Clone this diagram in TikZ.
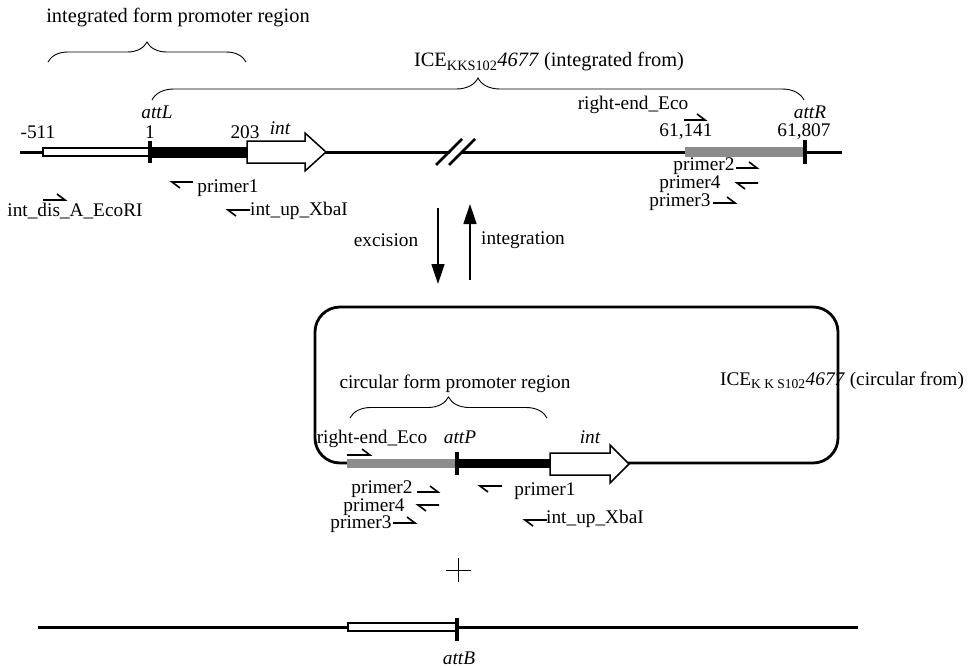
\documentclass[tikz,border=0pt]{standalone}
\usepackage{fontspec}
\setmainfont{Liberation Serif}
\usetikzlibrary{decorations.pathreplacing,arrows.meta}
\newcommand\fwdprimer[3]{\draw[prm] (#1,#3) -- (#2,#3) -- ++(-8,-6);}
\newcommand\revprimer[3]{\draw[prm] (#2,#3) -- (#1,#3) -- ++(8,6);}
\newcommand\intarrow[4]{\draw[line width=1.5pt,fill=white] (#1,#4-11) -- (#2,#4-11) -- (#2,#4-19) -- (#3,#4) -- (#2,#4+19) -- (#2,#4+11) -- (#1,#4+11) -- cycle;}
\begin{document}
\begin{tikzpicture}[x=1pt,y=-1pt,
  lbl/.style={inner sep=0pt, font=\fontsize{19.3}{20}\selectfont},
  ilbl/.style={inner sep=0pt, font=\fontsize{19.3}{20}\selectfont\itshape},
  dna/.style={line width=3pt},
  tick/.style={line width=3.5pt},
  brc/.style={decorate, decoration={brace, amplitude=#1}, line width=0.9pt},
  prm/.style={line width=1.6pt},
  bigarrow/.style={line width=1.6pt, -{Triangle[length=20pt,width=13pt]}}
]
\useasboundingbox (0,0) rectangle (975,667);

% ---------- integrated form ----------
\draw[dna] (20,152) -- (842,152);
\draw[line width=1.5pt, fill=white] (43,148) rectangle (150,156);
\fill (150,147) rectangle (248,158);
\draw[tick] (150,141) -- (150,163);
\intarrow{247}{305}{326}{152}
\fill[black!45] (685,147) rectangle (805,157);
\draw[tick] (805,140) -- (805,164);
% break mark
\fill[white] (439,165) -- (463,139) -- (474,139) -- (450,165) -- cycle;
\draw[line width=2.6pt] (436,165) -- (462,139);
\draw[line width=2.6pt] (449,165) -- (475,139);

\node[lbl, font=\fontsize{20.4}{22}\selectfont] (tifp) at (178,18) {integrated form promoter region};
\draw[brc=20pt] (48,62) -- (246,62);
\node[lbl, font=\fontsize{20.4}{22}\selectfont] (tice) at (549,62) {ICE\textsubscript{KKS102}\textit{4677} (integrated from)};
\draw[brc=22pt] (152,100) -- (804,100);

\node[lbl] (n511) at (38,132) {-511};
\node[lbl] (n1) at (150,132) {1};
\node[lbl] (n203) at (245,132) {203};
\node[ilbl] (tint) at (280,128) {int};
\node[ilbl] (attl) at (157,112) {attL};
\node[lbl] (reco) at (633,105) {right-end\_Eco};
\node[lbl] (n61141) at (686,132) {61,141};
\node[lbl] (n61807) at (804,132) {61,807};
\node[ilbl] (attr) at (810,112) {attR};

\node[lbl] (pr2a) at (704,166) {primer2};
\node[lbl] (pr4a) at (690,184) {primer4};
\node[lbl] (pr3a) at (680,202) {primer3};
\node[lbl] (pr1a) at (228,188) {primer1};
\node[lbl] (intupa) at (299,211) {int\_up\_XbaI};
\node[lbl] (intdis) at (75,211) {int\_dis\_A\_EcoRI};

\fwdprimer{684}{705}{120}
\fwdprimer{736}{757}{168}
\revprimer{737}{758}{183}
\fwdprimer{713}{735}{203}
\revprimer{172}{193}{182}
\revprimer{228}{250}{210}
\fwdprimer{43}{65}{200}

% ---------- excision / integration ----------
\coordinate (exs) at (438,208);
\coordinate (exe) at (438,284);
\coordinate (ins) at (470,280);
\coordinate (ine) at (470,204);
\draw[bigarrow] (exs) -- (exe);
\draw[bigarrow] (ins) -- (ine);
\node[lbl] (exc) at (386,240) {excision};
\node[lbl] (integ) at (523,240) {integration};

% ---------- circular form ----------
\draw[line width=2.8pt, rounded corners=25pt] (347,463) -| (315,307) -| (838,463) -- (628,463);
\fill[black!45] (347,459) rectangle (455,468);
\fill (457,459) rectangle (550,468);
\draw[tick] (457,452) -- (457,475);
\intarrow{550}{610}{629}{464}

\node[lbl] (tcfp) at (455,384) {circular form promoter region};
\draw[brc=21pt] (350,418) -- (547,418);
\node[lbl] (recoc) at (372,439) {right-end\_Eco};
\node[ilbl] (attp) at (460,437) {attP};
\node[ilbl] (tintc) at (590,437) {int};
\node[lbl] (icec) at (842,381) {ICE\textsubscript{{\addfontfeature{LetterSpace=25}KKS}102}\textit{4677} (circular from)};

\node[lbl] (pr2c) at (382,489) {primer2};
\node[lbl] (pr4c) at (374,507) {primer4};
\node[lbl] (pr3c) at (361,524) {primer3};
\node[lbl] (pr1c) at (545,491) {primer1};
\node[lbl] (intupc) at (595,519) {int\_up\_XbaI};

\fwdprimer{347}{370}{455}
\fwdprimer{417}{438}{492}
\revprimer{418}{439}{505}
\fwdprimer{393}{415}{523}
\revprimer{480}{502}{486}
\revprimer{525}{547}{520}

% plus
\draw[line width=1pt] (446,570) -- (471,570);
\draw[line width=1pt] (458,558) -- (458,582);

% ---------- attB ----------
\draw[dna] (38,627) -- (858,627);
\draw[line width=1.5pt, fill=white] (348,623) rectangle (457,631);
\draw[tick] (457,618) -- (457,641);
\node[ilbl] (attb) at (459,658) {attB};
\end{tikzpicture}
\end{document}
